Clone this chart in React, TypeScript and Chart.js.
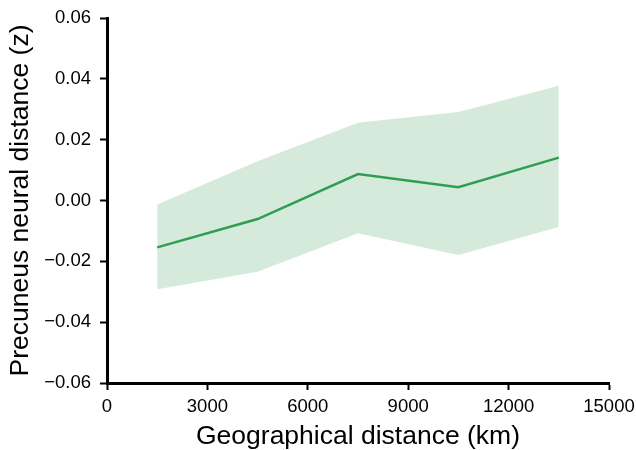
import React, { useEffect, useRef } from "react";
import { Chart, registerables } from "chart.js";

Chart.register(...registerables);

const distances = [1500, 4500, 7500, 10500, 13500];
const meanValues = [-0.0154, -0.0061, 0.0087, 0.0044, 0.0141];
const upperValues = [-0.0013, 0.0129, 0.0256, 0.0291, 0.0377];
const lowerValues = [-0.0292, -0.0234, -0.0108, -0.0179, -0.0087];
const xTicks = [0, 3000, 6000, 9000, 12000, 15000];
const yTicks = [-0.06, -0.04, -0.02, 0, 0.02, 0.04, 0.06];

const FONT = "'Liberation Sans', Arial, Helvetica, sans-serif";

export default function App() {
  const ref = useRef<HTMLCanvasElement>(null);
  useEffect(() => {
    document.body.style.margin = "0";
    const ctx = ref.current!.getContext("2d")!;
    const pts = (ys: number[]) => distances.map((x, i) => ({ x, y: ys[i] }));
    const chart = new Chart(ctx, {
      type: "line",
      data: {
        datasets: [
          {
            label: "upper",
            data: pts(upperValues),
            borderWidth: 0,
            borderColor: "rgba(0,0,0,0)",
            pointRadius: 0,
            backgroundColor: "rgb(214,234,219)",
            fill: "+1",
            tension: 0,
            order: 2,
          },
          {
            label: "lower",
            data: pts(lowerValues),
            borderWidth: 0,
            borderColor: "rgba(0,0,0,0)",
            pointRadius: 0,
            fill: false,
            tension: 0,
            order: 2,
          },
          {
            label: "mean",
            data: pts(meanValues),
            borderWidth: 2.5,
            borderColor: "rgb(46,158,82)",
            pointRadius: 0,
            fill: false,
            tension: 0,
            order: 0,
          },
        ],
      },
      options: {
        animation: false,
        responsive: false,
        maintainAspectRatio: false,
        layout: { padding: { top: 18, right: 27, left: 0, bottom: 0 } },
        plugins: {
          legend: { display: false },
          tooltip: { enabled: false },
          filler: { drawTime: "beforeDatasetsDraw" },
        } as any,
        scales: {
          x: {
            type: "linear",
            min: 0,
            max: 15000,
            afterBuildTicks: (axis: any) => {
              axis.ticks = xTicks.map((v) => ({ value: v }));
            },
            afterFit: (axis: any) => {
              axis.height = 67;
              axis.paddingRight = 0;
              axis.paddingLeft = 0;
            },
            grid: {
              drawOnChartArea: false,
              drawTicks: true,
              tickLength: 7,
              tickWidth: 2,
              tickColor: "#000",
            },
            border: { display: true, color: "#000", width: 3 },
            ticks: {
              color: "#000",
              font: { family: FONT, size: 18.5 },
              padding: 6,
              maxRotation: 0,
              callback: (v: any) => String(v),
            },
            title: {
              display: true,
              text: "Geographical distance (km)",
              color: "#000",
              font: { family: FONT, size: 26.5, lineHeight: 1 },
              padding: { top: 0, bottom: 0 },
            },
          },
          y: {
            type: "linear",
            min: -0.06,
            max: 0.06,
            afterBuildTicks: (axis: any) => {
              axis.ticks = yTicks.map((v) => ({ value: v }));
            },
            afterFit: (axis: any) => {
              axis.width = 107;
              axis.paddingTop = 0;
              axis.paddingBottom = 0;
            },
            grid: {
              drawOnChartArea: false,
              drawTicks: true,
              tickLength: 7,
              tickWidth: 2,
              tickColor: "#000",
            },
            border: { display: true, color: "#000", width: 3 },
            ticks: {
              color: "#000",
              font: { family: FONT, size: 18.5 },
              padding: 9,
              callback: (v: any) => {
                const n = Number(v);
                const s = Math.abs(n).toFixed(2);
                return n < -1e-9 ? "\u2212" + s : s;
              },
            },
            title: {
              display: true,
              text: "Precuneus neural distance (z)",
              color: "#000",
              font: { family: FONT, size: 26.5, lineHeight: 1 },
              padding: { top: 7, bottom: 0 },
            },
          },
        },
      },
    });
    return () => chart.destroy();
  }, []);
  return (
    <div style={{ width: 636, height: 450 }}>
      <canvas ref={ref} width={636} height={450} style={{ display: "block" }} />
    </div>
  );
}
